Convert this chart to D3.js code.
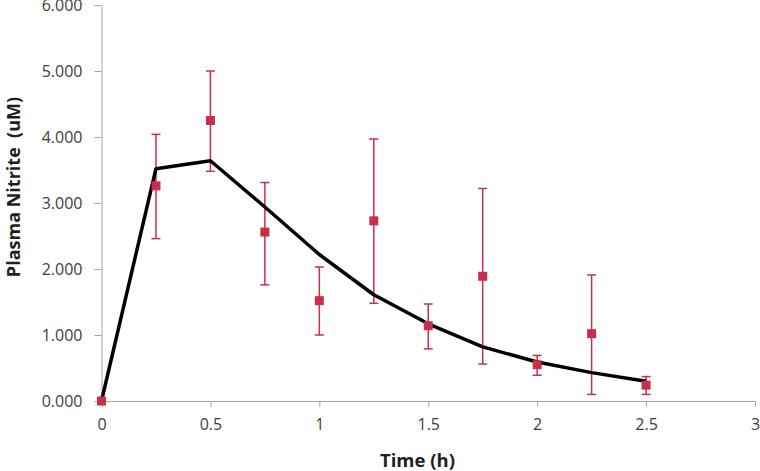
<!DOCTYPE html>
<html>
<head>
<meta charset="utf-8">
<script src="https://cdn.jsdelivr.net/npm/d3@7"></script>
<style>
  html, body { margin: 0; padding: 0; background: #fff; }
  svg { display: block; }
</style>
</head>
<body>
<svg id="chart" width="760" height="471"></svg>
<script>
// Observed data (time in h, plasma nitrite in uM)
const times = [0, 0.25, 0.5, 0.75, 1, 1.25, 1.5, 1.75, 2, 2.25, 2.5];
const observedMean = [0, 3.26, 4.25, 2.56, 1.52, 2.73, 1.14, 1.89, 0.55, 1.02, 0.24];
const errUpper = [0, 4.04, 5.00, 3.31, 2.03, 3.97, 1.47, 3.22, 0.69, 1.91, 0.37];
const errLower = [0, 2.46, 3.48, 1.76, 1.00, 1.48, 0.79, 0.56, 0.39, 0.10, 0.10];
// Model fit line
const modelValues = [0, 3.52, 3.64, 2.94, 2.22, 1.61, 1.17, 0.82, 0.59, 0.43, 0.30];
const xTicks = [0, 0.5, 1, 1.5, 2, 2.5, 3];
const yTicks = [0, 1, 2, 3, 4, 5, 6];

const svg = d3.select("#chart");
const mLeft = 101.5, mRight = 755, mTop = 5, mBottom = 401;
const x = d3.scaleLinear().domain([0, 3]).range([mLeft, mRight]);
const y = d3.scaleLinear().domain([0, 6]).range([mBottom, mTop]);

const axisColor = "#a6a6a6";
const textColor = "#404040";
const fontFam = "'Open Sans', 'Noto Sans', sans-serif";

// Y axis
const yAxis = svg.append("g").attr("transform", `translate(${mLeft},0)`)
  .call(d3.axisLeft(y).tickValues(yTicks).tickFormat(d3.format(".3f")).tickSizeInner(7).tickSizeOuter(0).tickPadding(12));
yAxis.select(".domain").attr("stroke", axisColor);
yAxis.selectAll(".tick line").attr("stroke", axisColor);
yAxis.selectAll(".tick text").attr("fill", textColor).attr("dy", "0.36em")
  .style("font-family", fontFam).style("font-size", "16px");

// X axis
const xAxis = svg.append("g").attr("transform", `translate(0,${mBottom})`)
  .call(d3.axisBottom(x).tickValues(xTicks).tickFormat(d => String(d)).tickSizeInner(6).tickSizeOuter(0).tickPadding(12));
xAxis.select(".domain").attr("stroke", axisColor);
xAxis.selectAll(".tick line").attr("stroke", axisColor);
xAxis.selectAll(".tick text").attr("fill", textColor).style("font-family", fontFam).style("font-size", "16px");

// Axis titles
svg.append("text")
  .attr("x", 417.5).attr("y", 466.5)
  .attr("text-anchor", "middle")
  .style("font-family", fontFam).style("font-size", "18.5px").style("font-weight", "bold")
  .attr("fill", "#1e1e1e")
  .text("Time (h)");

svg.append("text")
  .attr("transform", "translate(19.5,187) rotate(-90)")
  .attr("text-anchor", "middle")
  .style("font-family", fontFam).style("font-size", "18px").style("font-weight", "bold")
  .style("white-space", "pre")
  .attr("fill", "#1e1e1e")
  .text("Plasma Nitrite  (uM)");

const red = "#c8304a";
const obs = times.map((t, i) => ({t, m: observedMean[i], hi: errUpper[i], lo: errLower[i]}));

// Error bars
const eb = svg.append("g").attr("stroke", red).attr("stroke-width", 1.5);
obs.filter(d => d.hi > d.lo).forEach(d => {
  eb.append("line").attr("x1", x(d.t)).attr("x2", x(d.t)).attr("y1", y(d.hi)).attr("y2", y(d.lo));
  eb.append("line").attr("x1", x(d.t) - 4.5).attr("x2", x(d.t) + 4.5).attr("y1", y(d.hi)).attr("y2", y(d.hi));
  eb.append("line").attr("x1", x(d.t) - 4.5).attr("x2", x(d.t) + 4.5).attr("y1", y(d.lo)).attr("y2", y(d.lo));
});

// Model line
const line = d3.line().x((d, i) => x(times[i])).y(d => y(d));
svg.append("path").datum(modelValues)
  .attr("d", line)
  .attr("fill", "none").attr("stroke", "#000").attr("stroke-width", 3.5)
  .attr("stroke-linejoin", "round");

// Markers
svg.append("g").selectAll("rect").data(obs).join("rect")
  .attr("x", d => x(d.t) - 4.5).attr("y", d => y(d.m) - 4.5)
  .attr("width", 9).attr("height", 9)
  .attr("fill", red);
</script>
</body>
</html>
